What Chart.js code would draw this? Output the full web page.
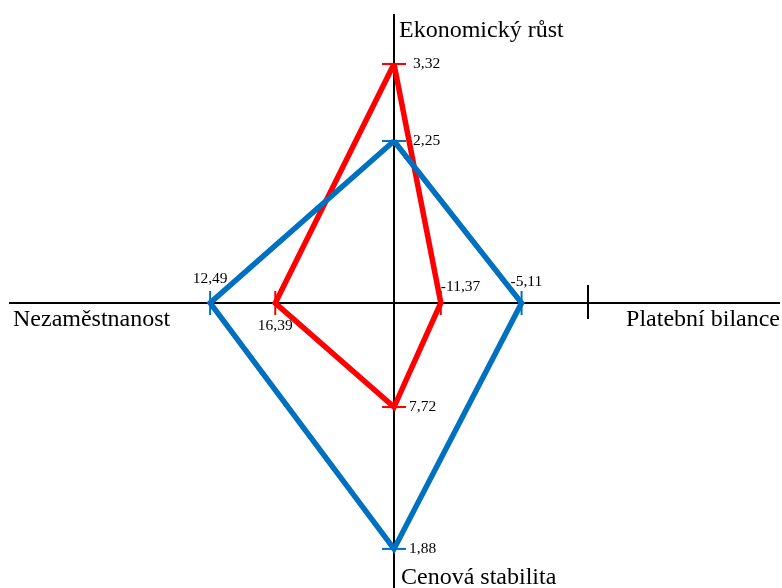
<!DOCTYPE html>
<html>
<head>
<meta charset="utf-8">
<script src="https://cdn.jsdelivr.net/npm/chart.js@4"></script>
<style>
  html, body { margin: 0; padding: 0; background: #fff; }
  #wrap { width: 782px; height: 588px; position: relative; }
</style>
</head>
<body>
<div id="wrap"><canvas id="chart"></canvas></div>
<script>
// axes go clockwise from the top
const axisNames = ['Ekonomický růst', 'Platební bilance', 'Cenová stabilita', 'Nezaměstnanost'];
const redValues = [3.32, -11.37, 7.72, 16.39];
const blueValues = [2.25, -5.11, 1.88, 12.49];

// every half-axis has its own scale: value at the origin, chart units per 1 value unit
const axisZero = [0, -15, 12, 23.5];
const axisStep = [72, 12.9, -24.3, -16.7];
const balanceMark = 0; // extra tick on the balance axis

const dirs = [[0, 1], [1, 0], [0, -1], [-1, 0]];

function toPoint(v, i) {
  const d = (v - axisZero[i]) * axisStep[i];
  return { x: dirs[i][0] * d, y: dirs[i][1] * d, v: v, axis: i };
}

function polygon(values) {
  const pts = values.map(toPoint);
  pts.push(pts[0]);
  return pts;
}

function fmt(v) {
  return v.toFixed(2).replace('.', ',');
}

const axesPlugin = {
  id: 'axes',
  beforeDatasetsDraw(chart) {
    const ctx = chart.ctx;
    const xs = chart.scales.x, ys = chart.scales.y;
    const cx = Math.round(xs.getPixelForValue(0)), cy = Math.round(ys.getPixelForValue(0));
    ctx.save();
    ctx.strokeStyle = '#000';
    ctx.lineWidth = 2;
    ctx.beginPath();
    ctx.moveTo(cx, 14);
    ctx.lineTo(cx, chart.height);
    ctx.moveTo(9, cy);
    ctx.lineTo(780, cy);
    // zero of the payment balance
    const mx = Math.round(xs.getPixelForValue(toPoint(balanceMark, 1).x));
    ctx.moveTo(mx, cy - 18);
    ctx.lineTo(mx, cy + 16);
    ctx.stroke();

    ctx.fillStyle = '#000';
    ctx.font = "24px 'Liberation Serif'";
    ctx.textBaseline = 'alphabetic';
    ctx.textAlign = 'left';
    ctx.fillText(axisNames[0], cx + 5, 37);
    ctx.fillText(axisNames[2], cx + 7, 584);
    ctx.fillText(axisNames[3], 13, cy + 23);
    ctx.textAlign = 'right';
    ctx.fillText(axisNames[1], 780, cy + 23);
    ctx.restore();
  },
  afterDatasetsDraw(chart) {
    const ctx = chart.ctx;
    ctx.save();
    ctx.fillStyle = '#000';
    ctx.font = "15.5px 'Liberation Serif'";
    ctx.textBaseline = 'middle';
    chart.data.datasets.forEach((ds, di) => {
      const meta = chart.getDatasetMeta(di);
      ds.data.slice(0, 4).forEach((p, i) => {
        const el = meta.data[i];
        const t = fmt(p.v);
        if (p.axis === 0) {
          ctx.textAlign = 'left';
          ctx.fillText(t, el.x + 19, el.y);
        } else if (p.axis === 1) {
          ctx.textAlign = 'left';
          ctx.fillText(t, el.x + ds.rightLabel[0], el.y + ds.rightLabel[1]);
        } else if (p.axis === 2) {
          ctx.textAlign = 'left';
          ctx.fillText(t, el.x + 15, el.y);
        } else {
          ctx.textAlign = 'center';
          ctx.fillText(t, el.x, ds.labelBelow ? el.y + 23 : el.y - 24);
        }
      });
    });
    ctx.restore();
  }
};

function series(values, color, below, rightLabel) {
  return {
    data: polygon(values),
    borderColor: color,
    backgroundColor: color,
    borderWidth: 5.5,
    showLine: true,
    tension: 0,
    fill: false,
    labelBelow: below,
    rightLabel: rightLabel,
    pointStyle: 'line',
    pointRadius: 12,
    pointHoverRadius: 12,
    pointBorderWidth: 2,
    pointBorderColor: color,
    pointRotation: [0, 90, 0, 90, 0]
  };
}

new Chart(document.getElementById('chart'), {
  type: 'scatter',
  data: {
    datasets: [
      series(blueValues, '#0070C0', false, [-11, -21]),
      series(redValues, '#FF0000', true, [0, -16])
    ]
  },
  options: {
    responsive: true,
    maintainAspectRatio: false,
    animation: false,
    layout: { padding: 0, autoPadding: false },
    plugins: { legend: { display: false }, tooltip: { enabled: false } },
    scales: {
      x: { type: 'linear', display: false, min: -394, max: 388 },
      y: { type: 'linear', display: false, min: -285, max: 303 }
    }
  },
  plugins: [axesPlugin]
});
</script>
</body>
</html>
